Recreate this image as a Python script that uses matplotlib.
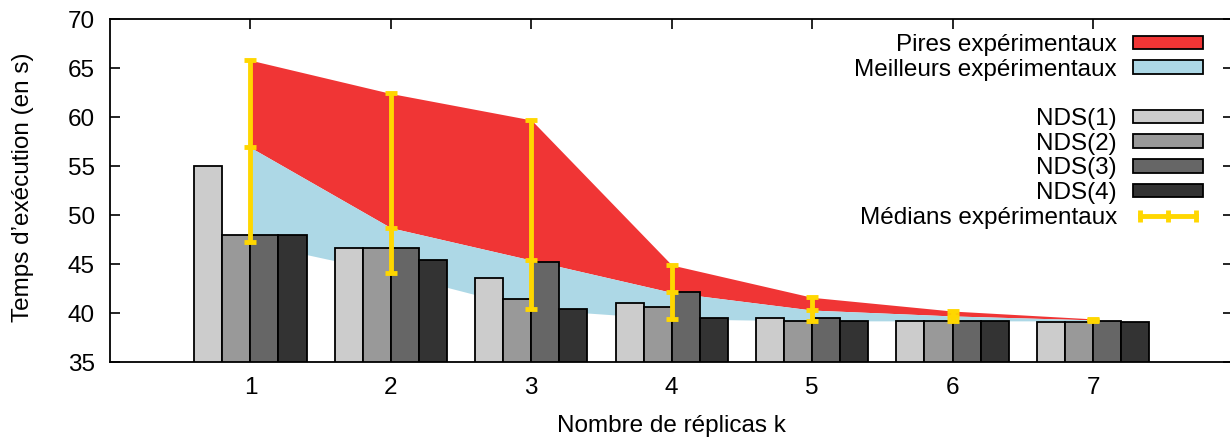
import numpy as np
import matplotlib
matplotlib.use("Agg")
import matplotlib.pyplot as plt
from matplotlib.patches import Patch
from matplotlib.lines import Line2D

plt.rcParams['font.family'] = ['Liberation Sans', 'DejaVu Sans']
plt.rcParams['font.size'] = 17.5

# Data
k = [1, 2, 3, 4, 5, 6, 7]
nds1 = [55.0, 46.6, 43.6, 41.0, 39.5, 39.2, 39.1]
nds2 = [48.0, 46.6, 41.4, 40.6, 39.2, 39.2, 39.1]
nds3 = [48.0, 46.6, 45.2, 42.1, 39.5, 39.2, 39.2]
nds4 = [48.0, 45.4, 40.4, 39.5, 39.2, 39.2, 39.1]
worst = [65.8, 62.4, 59.7, 44.9, 41.6, 40.2, 39.4]
median = [56.9, 48.7, 45.4, 42.1, 40.3, 39.7, 39.3]
best = [47.2, 44.1, 40.4, 39.4, 39.2, 39.2, 39.2]

nds_labels = ['NDS(1)', 'NDS(2)', 'NDS(3)', 'NDS(4)']
nds_colors = ['#cccccc', '#999999', '#666666', '#333333']
red = '#f03535'
blue = '#add8e6'
gold = '#ffd700'

fig = plt.figure(figsize=(12.3, 4.41), dpi=100)
ax = fig.add_axes([0.0894, 0.1791, 0.9134, 0.7778])

x = np.array(k, dtype=float)
ax.fill_between(x, median, worst, color=red, lw=0, zorder=1)
ax.fill_between(x, best, median, color=blue, lw=0, zorder=1)

offsets = [-0.3, -0.1, 0.1, 0.3]
for vals, off, col in zip([nds1, nds2, nds3, nds4], offsets, nds_colors):
    ax.bar(x + off, np.array(vals) - 35, width=0.2, bottom=35, color=col,
           edgecolor='black', linewidth=1.3, zorder=3)

med = np.array(median)
yerr = [med - np.array(best), np.array(worst) - med]
ax.errorbar(x, med, yerr=yerr, fmt='none', ecolor=gold, elinewidth=3.5,
            capsize=4, capthick=3.5, zorder=5)
ax.plot(x, med, linestyle='none', marker='_', ms=8, mew=3.5, color=gold, zorder=5)

ax.set_xlim(0, 8)
ax.set_ylim(35, 70)
ax.set_xticks(k)
ax.set_yticks(range(35, 71, 5))
ax.tick_params(direction='in', length=7, width=1.2, top=True, right=True, pad=11)
for s in ax.spines.values():
    s.set_linewidth(1.3)

ax.set_xlabel('Nombre de réplicas k')
ax.set_ylabel('Temps d’exécution (en s)')
ax.xaxis.set_label_coords(0.5002, -0.155)
ax.yaxis.set_label_coords(-0.0676, 0.51)

handles = [Patch(facecolor=red, edgecolor='black', lw=1.3),
           Patch(facecolor=blue, edgecolor='black', lw=1.3),
           Patch(visible=False)]
labels = ['Pires expérimentaux', 'Meilleurs expérimentaux', ' ']
for lab, col in zip(nds_labels, nds_colors):
    handles.append(Patch(facecolor=col, edgecolor='black', lw=1.3))
    labels.append(lab)
handles.append(Line2D([], [], color=gold, lw=3.5, marker='|', ms=8, mew=3.5))
labels.append('Médians expérimentaux')

ax.legend(handles, labels, loc='upper right', bbox_to_anchor=(0.9729, 0.956),
          frameon=False, markerfirst=False, borderpad=0, borderaxespad=0,
          handlelength=2.88, handleheight=0.5, handletextpad=0.66,
          labelspacing=0.11, numpoints=3)

fig.savefig('out.png', dpi=100)
